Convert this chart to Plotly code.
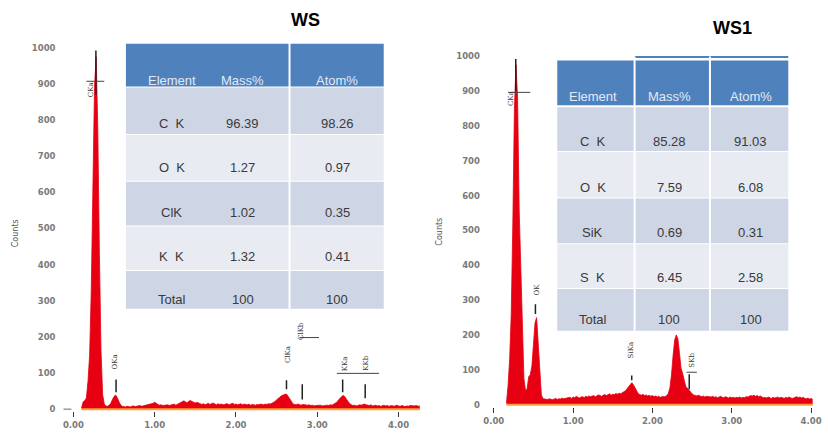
import numpy as np
import plotly.graph_objects as go

W, H = 828, 433

# ---------------- EDS spectra: counts per 0.02 keV channel ----------------
CHANNEL_KEV = 0.02

ws_start_kev = 0.10
ws_counts = [
    # 0.10 - 0.60
    3, 20, 24, 31, 78, 150, 330, 630, 890, 975, 780, 430, 160, 40, 14, 9, 8, 11, 16, 26, 35, 39, 32, 21, 12, 8,
    # 0.62 - 0.90
    7, 6, 8, 7, 6, 8, 9, 7, 8, 9, 10, 8, 9, 11, 10,
    # 0.92 - 1.20
    12, 14, 13, 16, 19, 15, 13, 11, 12, 10, 11, 13, 12, 10, 11,
    # 1.22 - 1.50
    12, 14, 11, 13, 16, 19, 21, 23, 20, 18, 22, 24, 21, 19, 17,
    # 1.52 - 1.80
    19, 17, 14, 13, 15, 12, 14, 16, 13, 15, 17, 14, 12, 15, 13,
    # 1.82 - 2.10
    14, 12, 13, 15, 14, 12, 15, 16, 13, 14, 12, 13, 15, 12, 14,
    # 2.12 - 2.40
    13, 12, 14, 11, 13, 12, 11, 13, 12, 14, 13, 12, 14, 13, 15,
    # 2.42 - 2.70
    14, 16, 18, 21, 26, 30, 34, 37, 39, 41, 42, 36, 28, 20, 15,
    # 2.72 - 3.00
    13, 12, 14, 12, 11, 13, 12, 10, 11, 12, 10, 11, 9, 10, 11,
    # 3.02 - 3.30
    10, 11, 9, 10, 12, 11, 10, 12, 11, 13, 15, 19, 25, 31, 35,
    # 3.32 - 3.60
    38, 34, 27, 20, 15, 12, 10, 11, 9, 10, 12, 11, 13, 14, 12,
    # 3.62 - 3.90
    11, 10, 12, 9, 10, 11, 9, 10, 8, 10, 11, 9, 10, 8, 9,
    # 3.92 - 4.26
    10, 8, 9, 11, 9, 8, 10, 9, 7, 9, 8, 10, 9, 8, 9, 10, 8, 9,
]

ws1_start_kev = 0.16
ws1_counts = [
    # 0.16 - 0.62
    5, 55, 130, 260, 520, 850, 975, 880, 560, 380, 200, 75, 40, 46, 80, 86, 110, 180, 235, 250, 170, 70, 28, 17,
    # 0.64 - 0.92
    16, 14, 15, 17, 15, 14, 16, 18, 15, 17, 16, 19, 17, 18, 20,
    # 0.94 - 1.22
    19, 21, 18, 22, 20, 24, 21, 19, 22, 23, 20, 24, 22, 25, 23,
    # 1.24 - 1.52
    24, 26, 23, 25, 28, 26, 24, 27, 29, 26, 28, 31, 27, 30, 29,
    # 1.54 - 1.82
    32, 30, 33, 31, 34, 36, 40, 46, 52, 58, 63, 57, 47, 38, 32,
    # 1.84 - 2.12
    29, 27, 30, 26, 28, 25, 27, 24, 26, 23, 25, 22, 24, 21, 23,
    # 2.14 - 2.42
    22, 23, 26, 32, 48, 85, 140, 185, 200, 190, 150, 105, 90, 68, 52,
    # 2.44 - 2.72
    48, 42, 36, 31, 28, 26, 25, 27, 24, 23, 25, 22, 24, 23, 21,
    # 2.74 - 3.02
    22, 24, 21, 23, 20, 22, 24, 21, 20, 23, 21, 19, 22, 20, 21,
    # 3.04 - 3.32
    19, 21, 20, 22, 19, 21, 20, 23, 22, 24, 26, 25, 27, 24, 26,
    # 3.34 - 3.62
    23, 25, 22, 20, 21, 19, 22, 20, 18, 21, 19, 20, 22, 19, 21,
    # 3.64 - 3.92
    20, 18, 21, 19, 22, 20, 18, 19, 21, 23, 20, 22, 19, 21, 18,
    # 3.94 - 4.02
    17, 19, 16, 18, 15,
]

# ---------------- quantification tables ----------------
table_header = ["Element", "Mass%", "Atom%"]
ws_elements = ["C\u00a0\u00a0K", "O\u00a0\u00a0K", "ClK", "K\u00a0\u00a0K", "Total"]
ws_mass = [96.39, 1.27, 1.02, 1.32, 100]
ws_atom = [98.26, 0.97, 0.35, 0.41, 100]
ws1_elements = ["C\u00a0\u00a0K", "O\u00a0\u00a0K", "SiK", "S\u00a0\u00a0K", "Total"]
ws1_mass = [85.28, 7.59, 0.69, 6.45, 100]
ws1_atom = [91.03, 6.08, 0.31, 2.58, 100]

# ---------------- X-ray line identifications ----------------
ws_lines = ["CKa", "OKa", "ClKa", "ClKb", "KKa", "KKb"]
ws_line_kev = [0.277, 0.525, 2.621, 2.815, 3.312, 3.589]
ws1_lines = ["CKa", "OK", "SiKa", "SKb"]
ws1_line_kev = [0.277, 0.525, 1.739, 2.464]

x_tick_vals = [0, 1, 2, 3, 4]
x_tick_text = ["0.00", "1.00", "2.00", "3.00", "4.00"]
y_tick_vals = list(range(0, 1001, 100))


def channels(start, counts):
    return np.round(start + CHANNEL_KEV * np.arange(len(counts)), 3)


def fx(p):
    return p / W


def fy(p):
    return 1 - p / H


RED = "#E60012"
ORANGE = "#F5A33C"
TICK_FONT = dict(family="DejaVu Sans", size=8.5, color="#7a7a7a", weight="bold")
LABEL_FONT = dict(family="DejaVu Serif", size=7, color="#333333")

fig = go.Figure()

spectra = [
    ("x", "y", channels(ws_start_kev, ws_counts), ws_counts),
    ("x2", "y2", channels(ws1_start_kev, ws1_counts), ws1_counts),
]
for xa, ya, e, c in spectra:
    fig.add_trace(go.Scatter(
        x=e, y=c, xaxis=xa, yaxis=ya, mode="lines",
        line=dict(color=RED, width=0.8), fill="tozeroy", fillcolor=RED,
        hoverinfo="skip", showlegend=False,
    ))
    fig.add_trace(go.Scatter(
        x=[e[0], e[-1]], y=[0, 0], xaxis=xa, yaxis=ya, mode="lines",
        line=dict(color=ORANGE, width=2), hoverinfo="skip", showlegend=False,
    ))

# axis geometry (pixels): left panel 0 keV at 74, 82 px/keV, 0 counts at 412, 0.364 px/count
#                         right panel 0 keV at 498, 80 px/keV, 0 counts at 407.5, 0.351 px/count
def axis_pair(x_dom_px, x0_px, px_per_kev, y_dom_px, y0_px, px_per_count, standoff_y, standoff_x):
    xa = dict(
        domain=[fx(x_dom_px[0]), fx(x_dom_px[1])],
        range=[(x_dom_px[0] - x0_px) / px_per_kev, (x_dom_px[1] - x0_px) / px_per_kev],
        tickvals=x_tick_vals, ticktext=x_tick_text, ticks="outside", ticklen=5,
        tickcolor="#333333", tickwidth=1, tickfont=TICK_FONT, ticklabeloverflow="allow",
        showgrid=False, zeroline=False, showline=False, ticklabelstandoff=standoff_x,
    )
    ya = dict(
        domain=[fy(y_dom_px[0]), fy(y_dom_px[1])],
        range=[-(y_dom_px[0] - y0_px) / px_per_count, (y0_px - y_dom_px[1]) / px_per_count],
        tickvals=y_tick_vals, ticks="", tickfont=TICK_FONT,
        showgrid=False, zeroline=False, showline=False, ticklabelstandoff=standoff_y,
    )
    return xa, ya


xa1, ya1 = axis_pair((60, 428), 74, 82, (414, 40), 412, 0.364, 3, 1)
xa2, ya2 = axis_pair((486, 822), 498, 80, (410, 50), 407.5, 0.351, 1, 1)
ya1["anchor"] = "x"
xa1["anchor"] = "y"
ya2["anchor"] = "x2"
xa2["anchor"] = "y2"

shapes = []
annotations = []


def paper_text(text, xp, yp, font, angle=0):
    annotations.append(dict(text=text, x=fx(xp), y=fy(yp), xref="paper", yref="paper",
                            xanchor="center", yanchor="middle", textangle=angle,
                            showarrow=False, font=font))


# titles and axis titles
TITLE_FONT = dict(family="Liberation Sans", size=18, color="#000")
paper_text("<b>WS</b>", 308, 20, TITLE_FONT)
paper_text("<b>WS1</b>", 739, 28, TITLE_FONT)
for xp, yp in [(15, 235), (443, 233)]:
    paper_text("Counts", xp, yp, dict(family="DejaVu Sans", size=8, color="#555555"), -90)

# zero-count dash on the WS count axis
shapes.append(dict(type="line", xref="paper", yref="y", x0=fx(64), x1=fx(72), y0=0, y1=0,
                   line=dict(color="#666666", width=1)))


# peak identification labels: (label y in counts, marker span in counts, pixel x shift)
ws_label_style = [
    (885, (870, 992), -5),
    (129, (47, 82), -2),
    (151, (55, 80), 1),
    (217, (27, 69), -2),
    (126, (47, 82), 2),
    (126, (30, 69), 0),
]
ws1_label_style = [
    (879, (900, 992), -4),
    (332, (260, 288), 2),
    (155, (70, 84), -1),
    (127, (44, 87), 3),
]


def add_line_labels(xref, yref, names, kevs, style):
    for name, kev, (ly, (m0, m1), dx) in zip(names, kevs, style):
        annotations.append(dict(text=name, x=kev, y=ly, xref=xref, yref=yref, xshift=dx,
                                xanchor="center", yanchor="middle",
                                textangle=-90, showarrow=False, font=LABEL_FONT))
        shapes.append(dict(type="line", xref=xref, yref=yref, x0=kev, x1=kev, y0=m0, y1=m1,
                           line=dict(color="#222222", width=1.5), layer="above"))


add_line_labels("x", "y", ws_lines, ws_line_kev, ws_label_style)
add_line_labels("x2", "y2", ws1_lines, ws1_line_kev, ws1_label_style)

# underline strokes attached to labels
for xr, yr, x0, x1, yv in [("x", "y", 0.16, 0.38, 907), ("x", "y", 2.78, 3.02, 198),
                           ("x", "y", 3.24, 3.76, 99), ("x2", "y2", 0.18, 0.46, 896),
                           ("x2", "y2", 2.43, 2.56, 93)]:
    shapes.append(dict(type="line", xref=xr, yref=yr, x0=x0, x1=x1, y0=yv, y1=yv,
                       line=dict(color="#444444", width=1), layer="above"))

HEADER_BLUE = "#4F81BD"
ROW_DARK = "#CED5E4"
ROW_LIGHT = "#E8EBF2"
CELL_FONT = dict(family="Liberation Sans", size=13, color="#3a3a3a")
HEAD_FONT = dict(family="Liberation Sans", size=13, color="#E2EAF5")


def rect(x0, x1, y0, y1, color):
    shapes.append(dict(type="rect", xref="paper", yref="paper", x0=fx(x0), x1=fx(x1),
                       y0=fy(y1), y1=fy(y0), fillcolor=color, line=dict(width=0), layer="above"))


def draw_table(left, right, head_top, head_bot, row_edges, seps, text_x, head_y, row_y,
               elements, mass, atom):
    rect(left, right, head_top, head_bot, HEADER_BLUE)
    for i in range(len(elements)):
        rect(left, right, row_edges[i] + 1, row_edges[i + 1], ROW_DARK if i % 2 == 0 else ROW_LIGHT)
    for s in seps:
        shapes.append(dict(type="line", xref="paper", yref="paper", x0=fx(s), x1=fx(s),
                           y0=fy(row_edges[-1]), y1=fy(head_top - 4),
                           line=dict(color="white", width=2), layer="above"))
    for tx, h in zip(text_x, table_header):
        paper_text(h, tx, head_y, HEAD_FONT)
    for i, (el, m, a) in enumerate(zip(elements, mass, atom)):
        for tx, val in zip(text_x, [el, f"{m:g}", f"{a:g}"]):
            paper_text(val, tx, row_y[i], CELL_FONT)


draw_table(127, 387, 44, 87, [87, 135, 182, 227, 272, 311], [292],
           [173, 245, 340], 81, [124, 169, 214, 258, 302],
           ws_elements, ws_mass, ws_atom)

# thin rule above the WS1 header
shapes.append(dict(type="line", xref="paper", yref="paper", x0=fx(640), x1=fx(795),
                   y0=fy(57.5), y1=fy(57.5), line=dict(color=HEADER_BLUE, width=2), layer="above"))
draw_table(562, 795, 61, 106, [107, 152, 199, 245, 290, 333], [640, 716],
           [598, 675, 757], 97, [142, 189, 234, 279, 322],
           ws1_elements, ws1_mass, ws1_atom)

fig.update_layout(
    width=W, height=H, margin=dict(l=0, r=0, t=0, b=0),
    paper_bgcolor="white", plot_bgcolor="white",
    xaxis=xa1, yaxis=ya1, xaxis2=xa2, yaxis2=ya2,
    shapes=shapes, annotations=annotations, showlegend=False,
)

fig.write_html("out.html")
